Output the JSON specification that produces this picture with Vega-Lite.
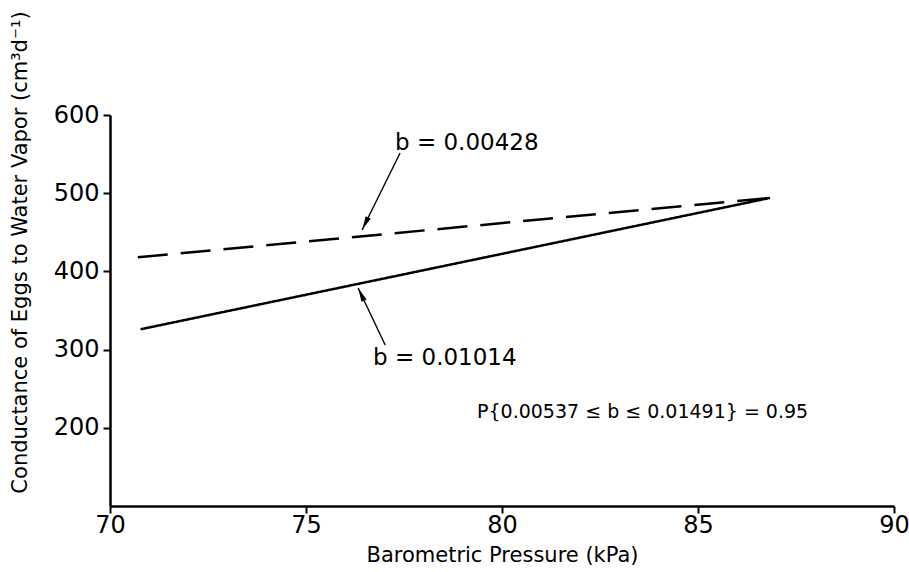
{
  "$schema": "https://vega.github.io/schema/vega-lite/v6.json",
  "autosize": "none",
  "width": 784,
  "height": 391,
  "padding": {"left": 110, "top": 115, "right": 15, "bottom": 66},
  "background": "white",
  "config": {
    "view": {"stroke": null},
    "font": "DejaVu Sans",
    "axis": {
      "grid": false,
      "domainColor": "black",
      "domainWidth": 2.5,
      "tickColor": "black",
      "tickWidth": 2,
      "tickSize": 7,
      "labelColor": "black",
      "labelFont": "DejaVu Sans",
      "labelFontSize": 24,
      "titleColor": "black",
      "titleFont": "DejaVu Sans",
      "titleFontSize": 21,
      "titleFontWeight": "normal"
    }
  },
  "datasets": {
    "regression": [
      {"series": "b = 0.01014", "pressure": 70.78, "conductance": 326},
      {"series": "b = 0.01014", "pressure": 86.84, "conductance": 494},
      {"series": "b = 0.00428", "pressure": 70.71, "conductance": 418},
      {"series": "b = 0.00428", "pressure": 86.84, "conductance": 494}
    ],
    "arrows": [
      {"arrow": "upper", "pressure": 77.40, "conductance": 551.4},
      {"arrow": "upper", "pressure": 76.43, "conductance": 452.9},
      {"arrow": "lower", "pressure": 77.02, "conductance": 305.9},
      {"arrow": "lower", "pressure": 76.33, "conductance": 378.8}
    ],
    "tipUpper": [{"pressure": 76.43, "conductance": 452.9}],
    "tipLower": [{"pressure": 76.33, "conductance": 378.8}],
    "labelsLeft": [
      {"label": "b = 0.00428", "pressure": 77.27, "conductance": 564.2},
      {"label": "b = 0.01014", "pressure": 76.71, "conductance": 289.3}
    ],
    "labelsRight": [
      {"label": "P{0.00537 ≤ b ≤ 0.01491} = 0.95", "pressure": 87.81, "conductance": 220.2}
    ]
  },
  "layer": [
    {
      "data": {"name": "regression"},
      "mark": {"type": "line", "color": "black", "strokeWidth": 2.5},
      "encoding": {
        "x": {
          "field": "pressure", "type": "quantitative",
          "scale": {"domain": [70, 90], "nice": false, "zero": false},
          "axis": {
            "title": "Barometric Pressure (kPa)",
            "values": [70, 75, 80, 85, 90],
            "labelPadding": 0,
            "labelFlush": false,
            "titleY": 49,
            "titleBaseline": "middle"
          }
        },
        "y": {
          "field": "conductance", "type": "quantitative",
          "scale": {"domain": [100, 600], "nice": false, "zero": false},
          "axis": {
            "title": "Conductance of Eggs to Water Vapor (cm³d⁻¹)",
            "values": [200, 300, 400, 500, 600],
            "labelPadding": 4,
            "labelFlush": false,
            "titleAngle": -90,
            "titleX": -84,
            "titleY": 137,
            "titleAlign": "center",
            "titleBaseline": "alphabetic"
          }
        },
        "strokeDash": {
          "field": "series", "type": "nominal",
          "scale": {"domain": ["b = 0.01014", "b = 0.00428"], "range": [[1, 0], [30, 13]]},
          "legend": null
        }
      }
    },
    {
      "data": {"name": "arrows"},
      "mark": {"type": "line", "color": "black", "strokeWidth": 1.4},
      "encoding": {
        "x": {"field": "pressure", "type": "quantitative"},
        "y": {"field": "conductance", "type": "quantitative"},
        "detail": {"field": "arrow", "type": "nominal"}
      }
    },
    {
      "data": {"name": "tipUpper"},
      "mark": {"type": "point", "shape": "M0,0L0.4,2L-0.4,2Z", "filled": true, "color": "black", "opacity": 1, "size": 196, "angle": 206},
      "encoding": {
        "x": {"field": "pressure", "type": "quantitative"},
        "y": {"field": "conductance", "type": "quantitative"}
      }
    },
    {
      "data": {"name": "tipLower"},
      "mark": {"type": "point", "shape": "M0,0L0.4,2L-0.4,2Z", "filled": true, "color": "black", "opacity": 1, "size": 196, "angle": 335},
      "encoding": {
        "x": {"field": "pressure", "type": "quantitative"},
        "y": {"field": "conductance", "type": "quantitative"}
      }
    },
    {
      "data": {"name": "labelsLeft"},
      "mark": {"type": "text", "align": "left", "baseline": "middle", "fontSize": 23, "font": "DejaVu Sans", "color": "black"},
      "encoding": {
        "x": {"field": "pressure", "type": "quantitative"},
        "y": {"field": "conductance", "type": "quantitative"},
        "text": {"field": "label"}
      }
    },
    {
      "data": {"name": "labelsRight"},
      "mark": {"type": "text", "align": "right", "baseline": "middle", "fontSize": 19, "font": "DejaVu Sans", "color": "black"},
      "encoding": {
        "x": {"field": "pressure", "type": "quantitative"},
        "y": {"field": "conductance", "type": "quantitative"},
        "text": {"field": "label"}
      }
    }
  ]
}
